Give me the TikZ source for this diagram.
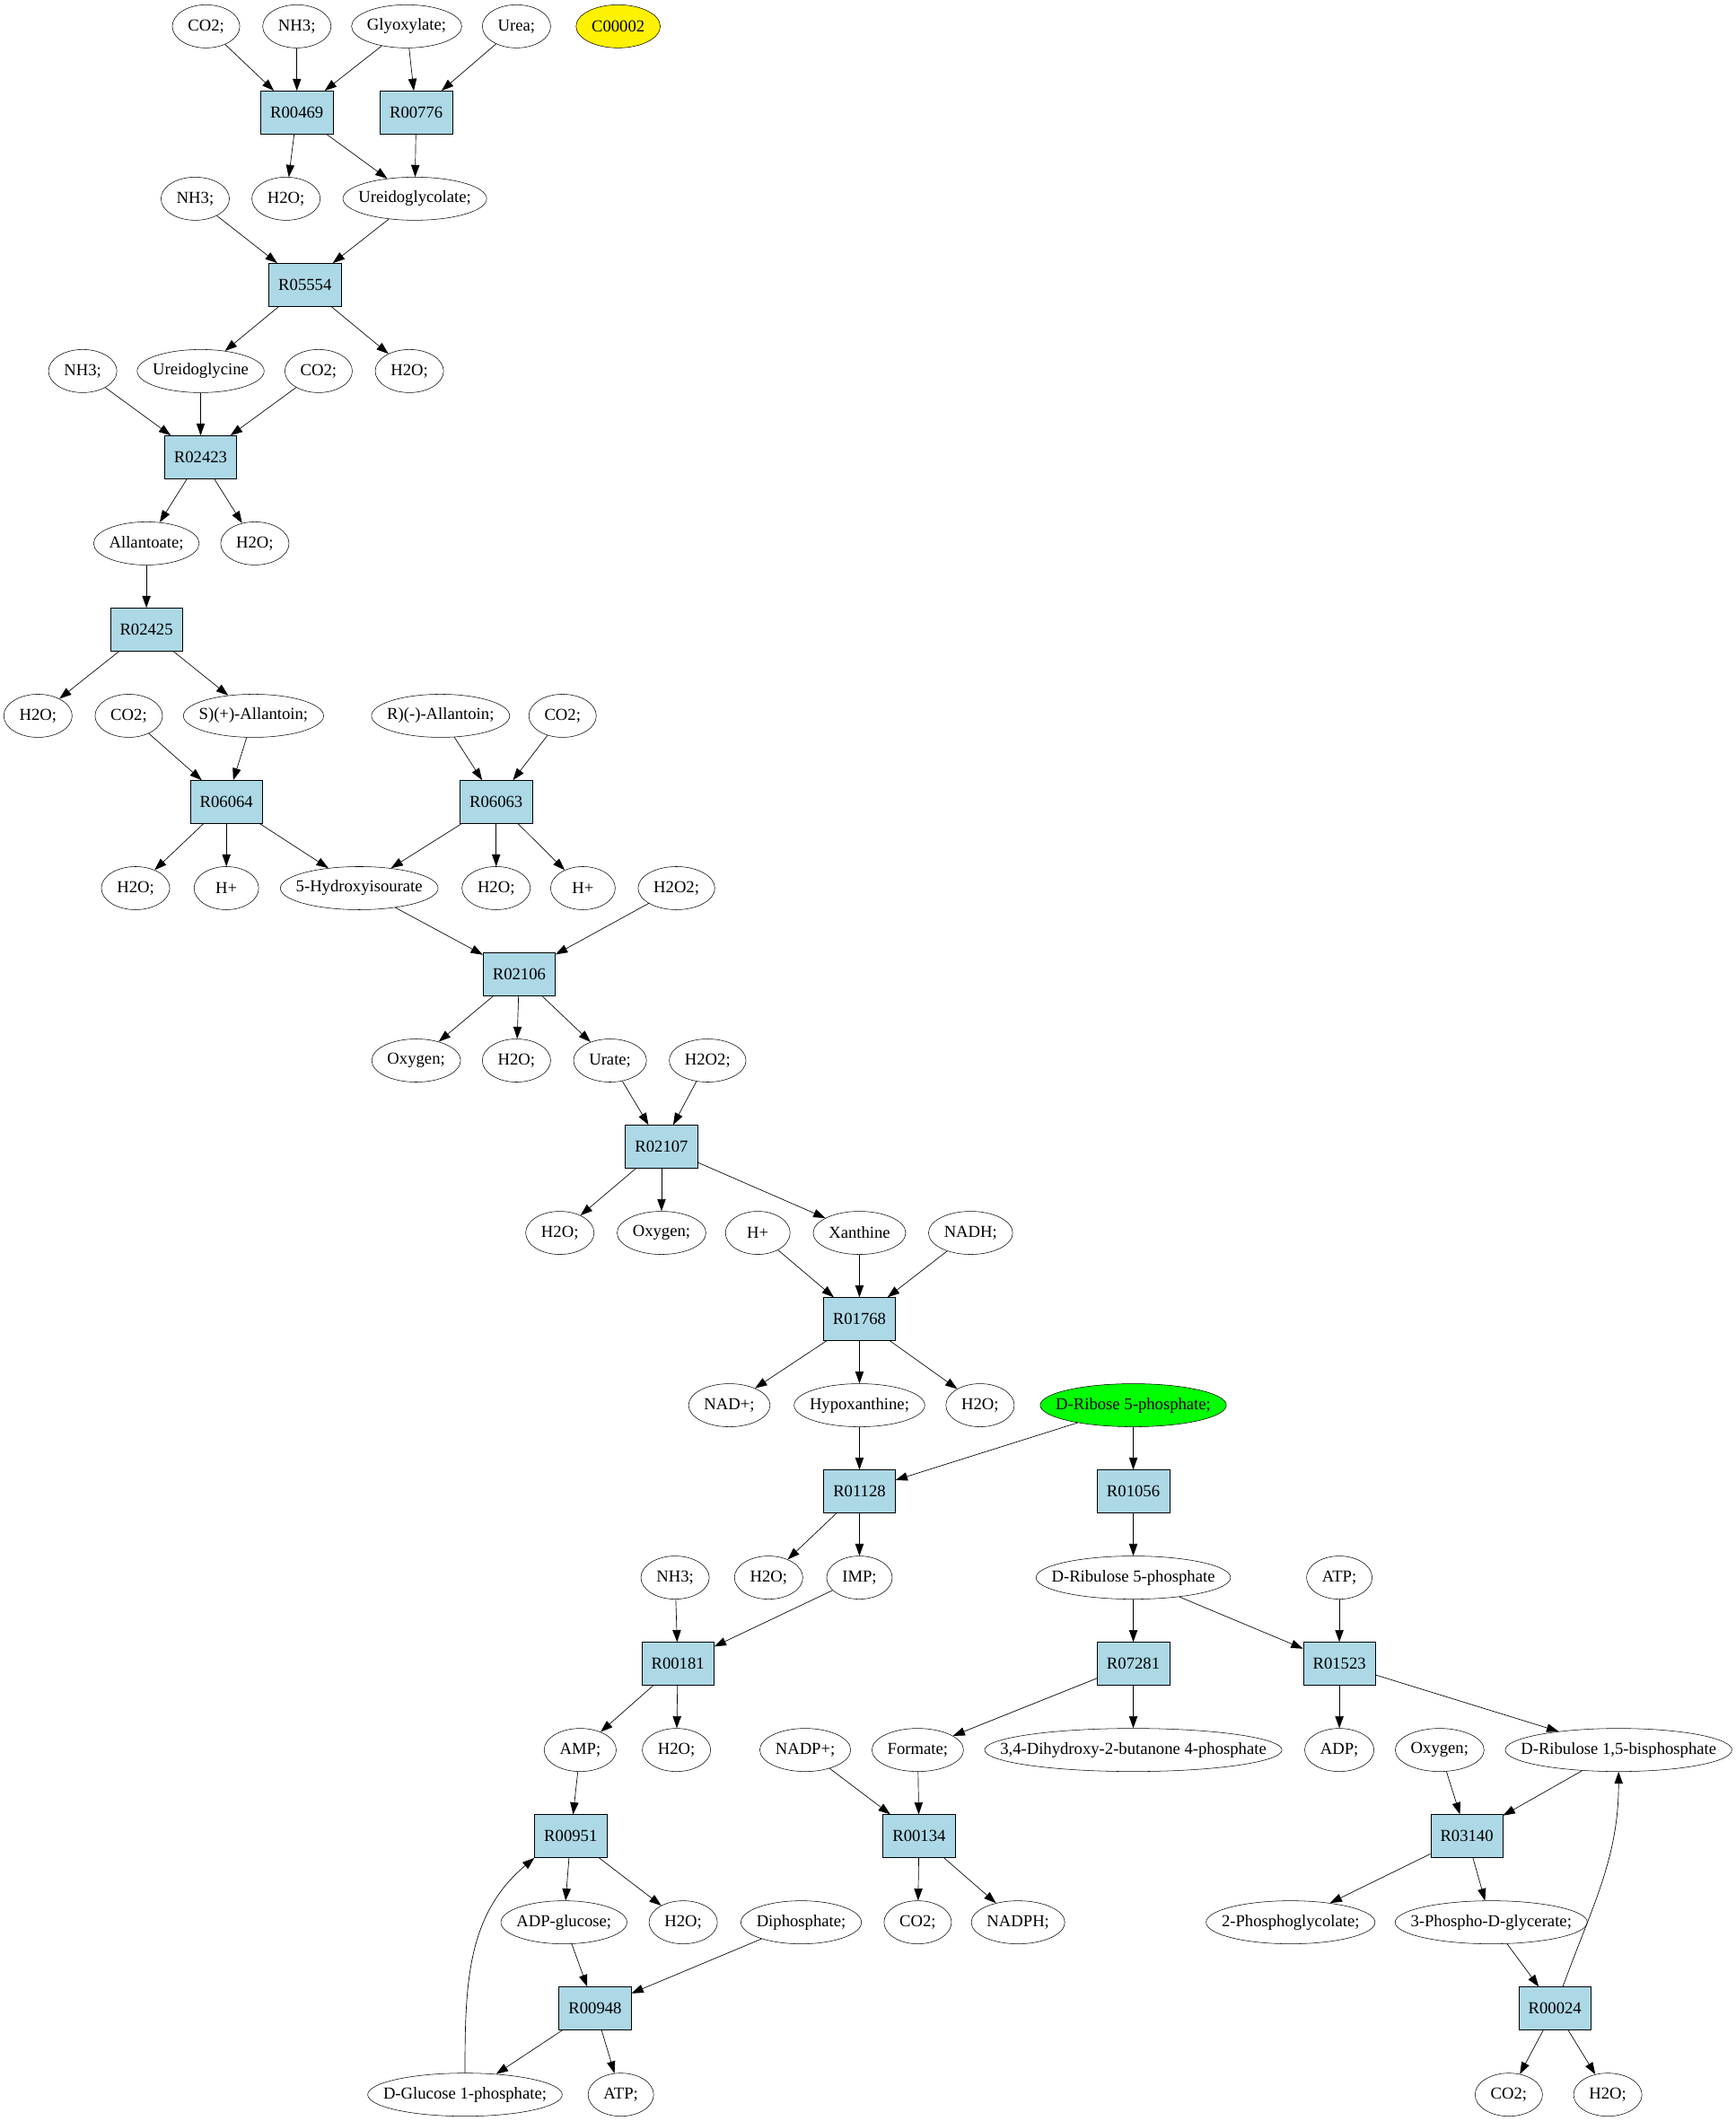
\documentclass[tikz,border=0pt]{standalone}
\usepackage{fontspec}
\setmainfont{Liberation Serif}
\usetikzlibrary{shapes.geometric,arrows.meta}
\definecolor{lightblue}{HTML}{ADD8E6}
\newcommand{\labfont}{\fontsize{14}{16}\selectfont}
\newlength{\cpdw}
\def\cpdxs{0pt}
% compound node: ellipse about 26pt wider than its text
% (the text is measured inside the node, where the real font is active)
\newcommand{\cpdtext}[1]{%
  \settowidth{\cpdw}{#1}%
  \pgfmathsetlengthmacro{\cpdtmp}{((\cpdw+26pt)/1.4142-\cpdw)/2}%
  \global\let\cpdxs\cpdtmp
  #1}
\newcommand{\cpd}[5][]{%
  \node[cpd,#1] (#2) at (#3,#4) {\cpdtext{#5}};}

\begin{document}
\begin{tikzpicture}[x=1.1325pt,y=-72pt,>={Triangle[length=10pt,width=7pt]},
    rxn/.style={draw,fill=lightblue,minimum width=54pt,minimum height=36pt,inner xsep=8pt,font=\labfont},
    cpd/.style={draw,ellipse,minimum width=54pt,minimum height=36pt,inner xsep=\cpdxs,inner ysep=0pt,font=\labfont},
    link/.style={->,line width=0.5pt}]
\useasboundingbox (0,-0.3056) rectangle (1280.4,24.3056);

% compounds
\cpd{co2a}{152}{0}{CO2;}
\cpd{nh3a}{219}{0}{NH3;}
\cpd{glyox}{300}{0}{Glyoxylate;}
\cpd{urea}{381}{0}{Urea;}
\cpd[fill=yellow]{c00002}{456}{0}{C00002}
\cpd{nh3b}{144}{2}{NH3;}
\cpd{h2oa}{211}{2}{H2O;}
\cpd{ugc}{306}{2}{Ureidoglycolate;}
\cpd{nh3c}{61}{4}{NH3;}
\cpd{ugly}{148}{4}{Ureidoglycine}
\cpd{co2b}{235}{4}{CO2;}
\cpd{h2ob}{302}{4}{H2O;}
\cpd{allt}{108}{6}{Allantoate;}
\cpd{h2oc}{188}{6}{H2O;}
\cpd{h2od}{28}{8}{H2O;}
\cpd{co2c}{95}{8}{CO2;}
\cpd{sall}{187}{8}{S)(+)-Allantoin;}
\cpd{rall}{325}{8}{R)(-)-Allantoin;}
\cpd{co2d}{415}{8}{CO2;}
\cpd{h2oe}{100}{10}{H2O;}
\cpd{hpa}{167}{10}{H+}
\cpd{hiu}{265}{10}{5-Hydroxyisourate}
\cpd{h2of}{366}{10}{H2O;}
\cpd{hpb}{430}{10}{H+}
\cpd{hpoa}{499}{10}{H2O2;}
\cpd{oxya}{307}{12}{Oxygen;}
\cpd{h2og}{381}{12}{H2O;}
\cpd{urate}{450}{12}{Urate;}
\cpd{hpob}{522}{12}{H2O2;}
\cpd{h2oh}{413}{14}{H2O;}
\cpd{oxyb}{488}{14}{Oxygen;}
\cpd{hpc}{559}{14}{H+}
\cpd{xan}{634}{14}{Xanthine}
\cpd{nadh}{716}{14}{NADH;}
\cpd{nad}{538}{16}{NAD+;}
\cpd{hypox}{634}{16}{Hypoxanthine;}
\cpd{h2oi}{723}{16}{H2O;}
\cpd[fill=green]{r5p}{836}{16}{D-Ribose 5-phosphate;}
\cpd{nh3d}{498}{18}{NH3;}
\cpd{h2oj}{567}{18}{H2O;}
\cpd{imp}{634}{18}{IMP;}
\cpd{ru5p}{836}{18}{D-Ribulose 5-phosphate}
\cpd{atpa}{988}{18}{ATP;}
\cpd{amp}{428}{20}{AMP;}
\cpd{h2ok}{499}{20}{H2O;}
\cpd{nadp}{594}{20}{NADP+;}
\cpd{form}{677}{20}{Formate;}
\cpd{dhbp}{836}{20}{3,4-Dihydroxy-2-butanone 4-phosphate}
\cpd{adp}{988}{20}{ADP;}
\cpd{oxyc}{1062}{20}{Oxygen;}
\cpd{rubp}{1194}{20}{D-Ribulose 1,5-bisphosphate}
\cpd{adpg}{416}{22}{ADP-glucose;}
\cpd{h2ol}{504}{22}{H2O;}
\cpd{ppi}{591}{22}{Diphosphate;}
\cpd{co2e}{677}{22}{CO2;}
\cpd{nadph}{751}{22}{NADPH;}
\cpd{pglc}{952}{22}{2-Phosphoglycolate;}
\cpd{pga}{1100}{22}{3-Phospho-D-glycerate;}
\cpd{glc}{343}{24}{D-Glucose 1-phosphate;}
\cpd{atpb}{458}{24}{ATP;}
\cpd{co2f}{1113}{24}{CO2;}
\cpd{h2om}{1186}{24}{H2O;}

% reactions
\node[rxn] (r00469) at (219,1) {R00469};
\node[rxn] (r00776) at (307,1) {R00776};
\node[rxn] (r05554) at (225,3) {R05554};
\node[rxn] (r02423) at (148,5) {R02423};
\node[rxn] (r02425) at (108,7) {R02425};
\node[rxn] (r06064) at (167,9) {R06064};
\node[rxn] (r06063) at (366,9) {R06063};
\node[rxn] (r02106) at (383,11) {R02106};
\node[rxn] (r02107) at (488,13) {R02107};
\node[rxn] (r01768) at (634,15) {R01768};
\node[rxn] (r01128) at (634,17) {R01128};
\node[rxn] (r01056) at (836,17) {R01056};
\node[rxn] (r00181) at (500,19) {R00181};
\node[rxn] (r07281) at (836,19) {R07281};
\node[rxn] (r01523) at (988,19) {R01523};
\node[rxn] (r00951) at (421,21) {R00951};
\node[rxn] (r00134) at (678,21) {R00134};
\node[rxn] (r03140) at (1082,21) {R03140};
\node[rxn] (r00948) at (439,23) {R00948};
\node[rxn] (r00024) at (1147,23) {R00024};

% arrows
\foreach \a/\b in {co2a/r00469,nh3a/r00469,glyox/r00469,glyox/r00776,urea/r00776,
    r00469/h2oa,r00469/ugc,r00776/ugc,nh3b/r05554,ugc/r05554,r05554/ugly,r05554/h2ob,
    nh3c/r02423,ugly/r02423,co2b/r02423,r02423/allt,r02423/h2oc,allt/r02425,
    r02425/h2od,r02425/sall,co2c/r06064,sall/r06064,rall/r06063,co2d/r06063,
    r06064/h2oe,r06064/hpa,r06064/hiu,r06063/hiu,r06063/h2of,r06063/hpb,
    hiu/r02106,hpoa/r02106,r02106/oxya,r02106/h2og,r02106/urate,urate/r02107,hpob/r02107,
    r02107/h2oh,r02107/oxyb,r02107/xan,hpc/r01768,xan/r01768,nadh/r01768,
    r01768/nad,r01768/hypox,r01768/h2oi,hypox/r01128,r5p/r01128,r5p/r01056,
    r01128/h2oj,r01128/imp,r01056/ru5p,nh3d/r00181,imp/r00181,ru5p/r07281,ru5p/r01523,
    atpa/r01523,r00181/amp,r00181/h2ok,r07281/form,r07281/dhbp,r01523/adp,r01523/rubp,
    amp/r00951,nadp/r00134,form/r00134,oxyc/r03140,rubp/r03140,r00951/adpg,r00951/h2ol,
    r00134/co2e,r00134/nadph,r03140/pglc,r03140/pga,adpg/r00948,ppi/r00948,pga/r00024,
    r00948/glc,r00948/atpb,r00024/co2f,r00024/h2om}
  \draw[link] (\a) -- (\b);
\draw[link] (glc) to[out=90,in=-140] (r00951.south west);
\draw[link] (r00024) to[out=70,in=-90] (rubp);
\end{tikzpicture}
\end{document}
